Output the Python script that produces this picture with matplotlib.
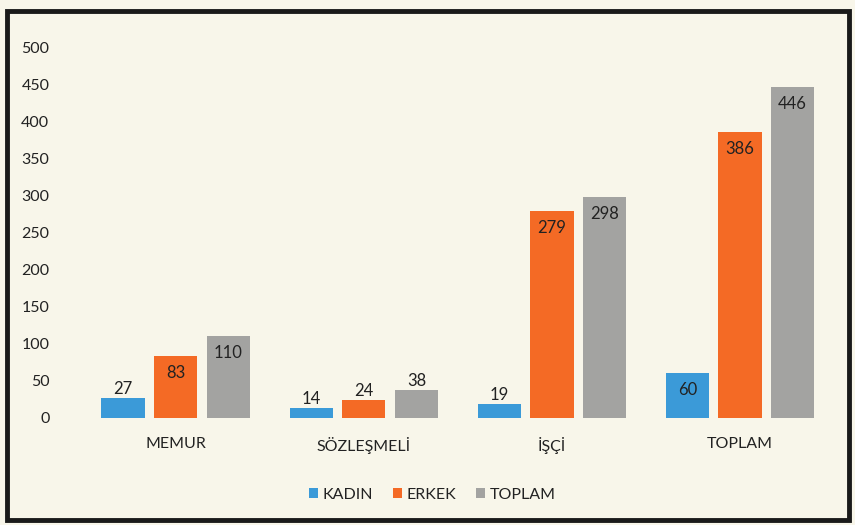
import numpy as np
import matplotlib
matplotlib.use("Agg")
import matplotlib.pyplot as plt
from matplotlib.patches import Rectangle

plt.rcParams['font.family'] = ['Lato', 'DejaVu Sans']

categories = ["MEMUR", "SÖZLEŞMELİ", "İŞÇİ", "TOPLAM"]
series_names = ["KADIN", "ERKEK", "TOPLAM"]
kadin = [27, 14, 19, 60]
erkek = [83, 24, 279, 386]
toplam = [110, 38, 298, 446]
yticks = [0, 50, 100, 150, 200, 250, 300, 350, 400, 450, 500]

colors = ["#3b9ad8", "#f46a25", "#a3a3a1"]
bg = "#f8f6ea"
txt = "#222222"

fig = plt.figure(figsize=(8.55, 5.25), dpi=100)
fig.patch.set_facecolor(bg)
ax = fig.add_axes([0.10, 0.204, 0.882, 0.706])
ax.set_facecolor(bg)

x = np.arange(len(categories))
w = 0.23
step = 0.28
for i, (vals, name, c) in enumerate(zip([kadin, erkek, toplam], series_names, colors)):
    xs = x + (i - 1) * step
    ax.bar(xs, vals, width=w, color=c, label=name)
    for xx, v in zip(xs, vals):
        if v < 50:
            ax.text(xx, v + 1, str(v), ha='center', va='bottom', fontsize=12, color=txt)
        else:
            ax.text(xx, v - 12, str(v), ha='center', va='top', fontsize=12, color=txt)

ax.set_xlim(-0.48, 3.53)
ax.set_ylim(0, 500)
ax.set_yticks(yticks)
ax.set_xticks(x)
ax.set_xticklabels(categories, fontsize=11.5, color=txt)
ax.tick_params(axis='y', length=0, pad=26, labelsize=11.5, labelcolor=txt)
ax.tick_params(axis='x', length=0, pad=14)
for s in ax.spines.values():
    s.set_visible(False)

ax.legend(loc='upper center', bbox_to_anchor=(0.46, -0.15), ncol=3, frameon=False,
          fontsize=11.5, handlelength=0.6, handleheight=0.6, handletextpad=0.3,
          columnspacing=1.2, labelcolor=txt)

fig.patches.append(Rectangle((0.008, 0.01), 0.985, 0.97, transform=fig.transFigure,
                             fill=False, edgecolor='#1a1a1a', linewidth=3.5))

fig.savefig("out.png", dpi=100, facecolor=bg)
